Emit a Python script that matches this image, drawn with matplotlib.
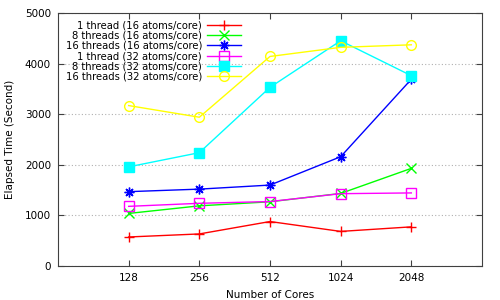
import matplotlib
matplotlib.use('Agg')
import matplotlib.pyplot as plt

# data
cores = ['128', '256', '512', '1024', '2048']
t1_16 = [575, 635, 880, 685, 775]
t8_16 = [1040, 1190, 1270, 1435, 1930]
t16_16 = [1470, 1520, 1600, 2160, 3690]
t1_32 = [1180, 1240, 1275, 1430, 1445]
t8_32 = [1960, 2240, 3530, 4450, 3760]
t16_32 = [3170, 2940, 4140, 4320, 4370]

series = [
    ('1 thread (16 atoms/core)', t1_16, '#ff0000', '+', 'none'),
    ('8 threads (16 atoms/core)', t8_16, '#00ff00', 'x', 'none'),
    ('16 threads (16 atoms/core)', t16_16, '#0000ff', (8, 2, 0), 'none'),
    ('1 thread (32 atoms/core)', t1_32, '#ff00ff', 's', 'none'),
    ('8 threads (32 atoms/core)', t8_32, '#00ffff', 's', 'full'),
    ('16 threads (32 atoms/core)', t16_32, '#ffff00', 'o', 'none'),
]

plt.rcParams['font.family'] = 'DejaVu Sans'
fig = plt.figure(figsize=(5, 3), dpi=100)
ax = fig.add_axes([0.116, 0.113, 0.848, 0.844])

x = list(range(1, len(cores) + 1))
for label, vals, col, mk, fill in series:
    if fill == 'none':
        ax.plot(x, vals, color=col, lw=1, marker=mk, markersize=7,
                markerfacecolor='none', markeredgecolor=col, markeredgewidth=1, label=label)
    else:
        ax.plot(x, vals, color=col, lw=1, marker=mk, markersize=7,
                markerfacecolor=col, markeredgecolor=col, label=label)

ax.set_xlim(0, 6)
ax.set_ylim(0, 5000)
ax.set_xticks(x)
ax.set_xticklabels(cores)
ax.set_yticks([0, 1000, 2000, 3000, 4000, 5000])
ax.tick_params(direction='in', length=4, width=0.8, labelsize=7.5, color='#404040',
               top=True, right=True, pad=5)
ax.yaxis.grid(True, linestyle=(0, (1, 2)), color='#b0b0b0', lw=0.8)
for s in ax.spines.values():
    s.set_color('#404040')
    s.set_linewidth(0.8)

ax.set_xlabel('Number of Cores', fontsize=7.5, labelpad=5)
ax.set_ylabel('Elapsed Time (Second)', fontsize=7.5, labelpad=7)

leg = ax.legend(loc='upper left', bbox_to_anchor=(0.0, 1.0), frameon=False,
                fontsize=7.2, markerfirst=False, handlelength=3.4,
                labelspacing=0.02, handletextpad=0.5, borderaxespad=0.35)

fig.savefig('out.png', dpi=100)
